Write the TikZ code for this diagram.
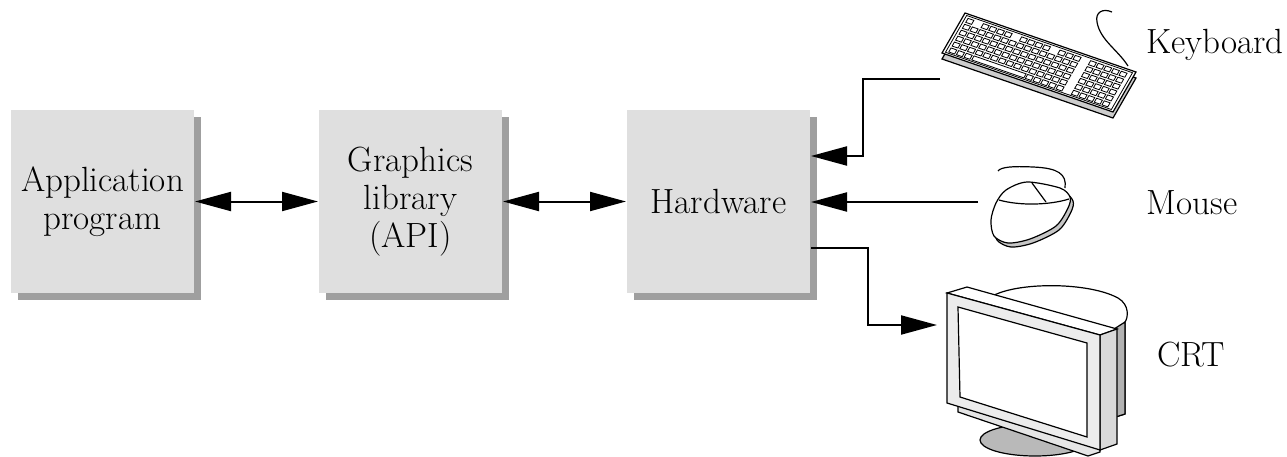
\documentclass[tikz,border=0pt]{standalone}
\usepackage{tikz}
\usetikzlibrary{positioning,arrows.meta,shadows}

\begin{document}
\begin{tikzpicture}[%
    x=0.5pt, y=-0.5pt, line width=1pt, >={Triangle[length=18pt,width=9.5pt]},
    node distance=61.5pt,
    block/.style={%
      rectangle, fill=gray!25, minimum width=91.5pt, minimum height=91.5pt,
      align=center, font=\fontsize{17.5}{19}\selectfont,
      drop shadow={shadow xshift=3.5pt, shadow yshift=-3.5pt, fill=gray!75, opacity=1}},
    devname/.style={font=\fontsize{17.5}{19}\selectfont},
    kbkey/.style={line width=0.4pt, fill=white},
    thin/.style={line width=0.6pt}
  ]
    \useasboundingbox (0,0) rectangle (1287,456);

    \node[block] (app) at (102.5,201.5)  {Application\\program};
    \node[block] (gfx) [right=of app]    {Graphics\\library\\(API)};
    \node[block] (hw)  [right=of gfx]    {Hardware};

    % keyboard
    \begin{scope}[shift={(942,53)}, x={(85.5pt,-29.5pt)}, y={(11.5pt,20pt)}]
      \begin{scope}[yshift=-3pt]
        \draw[thin, fill=gray!40] (0,0) -- (1,0) -- (1,1) -- (0,1) -- cycle;
      \end{scope}
      \draw[thin, fill=white] (0,0) -- (1,0) -- (1,1) -- (0,1) -- cycle;
      \draw[line width=0.4pt] (0.015,0.04) -- (0.985,0.04) -- (0.985,0.96) -- (0.015,0.96) -- cycle;
      \foreach \i in {0,...,14,16,17,18,19,20}
        \foreach \j in {1,...,4}
          \draw[kbkey] (0.03+\i*0.0448,0.07+\j*0.148) -- ++(0.034,0) -- ++(0,0.1) -- ++(-0.034,0) -- cycle;
      \foreach \i in {0,2,3,4,5,7,8,9,10,12,13,14,16,17,18,19,20}
        \draw[kbkey] (0.03+\i*0.0448,0.07+5*0.148) -- ++(0.034,0) -- ++(0,0.1) -- ++(-0.034,0) -- cycle;
      \foreach \i in {0,1,2,10,11,12,13,14,16,17,18,19,20}
        \draw[kbkey] (0.03+\i*0.0448,0.07) -- ++(0.034,0) -- ++(0,0.1) -- ++(-0.034,0) -- cycle;
      \draw[kbkey] (0.03+3*0.0448,0.07) -- ++(0.3046,0) -- ++(0,0.1) -- ++(-0.3046,0) -- cycle;
    \end{scope}
    \draw[thin] (1128,66) .. controls (1118,50) and (1100,40) .. (1097,22)
                .. controls (1095,12) and (1103,8) .. (1112,12);

    % mouse
    \draw[thin, fill=gray!45] plot[smooth cycle] coordinates {(1030,186) (1063,192) (1073,201) (1071,212)
        (1059,230) (1033,243) (1011,247) (997,240) (994,224) (999,207) (1009,194)};
    \draw[thin, fill=white] plot[smooth cycle] coordinates {(1027,182) (1060,188) (1070,197) (1068,208)
        (1056,226) (1030,239) (1008,243) (994,236) (991,220) (996,203) (1006,190)};
    \draw[thin] (999,200) .. controls (1020,206) and (1050,205) .. (1069,199);
    \draw[thin] (1032,183) -- (1046,202);
    \draw[thin] (1065,188) .. controls (1067,174) and (1058,168) .. (1033,167)
                .. controls (1012,166) and (1001,167) .. (998,171);

    % CRT
    \draw[thin, fill=gray!55] (1035,440) ellipse [x radius=27.5pt, y radius=8pt];
    \draw[thin, fill=white] (985,302) .. controls (1000,282) and (1085,280) .. (1118,298)
                .. controls (1130,305) and (1128,318) .. (1125,322) -- (1125,414) -- (1100,422) -- cycle;
    \draw[thin, fill=gray!60] (1100,338) -- (1125,322) -- (1125,414) -- (1100,422) -- cycle;
    \draw[thin, fill=gray!20] (958,400) -- (958,412) -- (1088,456) -- (1100,452) -- (1100,440) -- cycle;
    \draw[thin, fill=white] (947,293) -- (967,287) -- (1117,329) -- (1100,335) -- cycle;
    \draw[thin, fill=gray!30] (1100,335) -- (1117,329) -- (1117,444) -- (1100,450) -- cycle;
    \draw[thin, fill=gray!15] (947,293) -- (1100,335) -- (1100,450) -- (947,403) -- cycle;
    \draw[thin, fill=white] (958,307) -- (1087,343) -- (1087,437) -- (960,397) -- cycle;

    \node[devname] (kblbl)  at (1215,45)  {Keyboard};
    \node[devname] (mslbl)  at (1192,203) {Mouse};
    \node[devname] (crtlbl) at (1191,355) {CRT};

    \coordinate (kbin) at (940,79);
    \coordinate (kbrow) at (0,156);
    \coordinate (msin) at (978,202);
    \coordinate (crtrow) at (0,248);
    \coordinate (crtin) at (937,325);

    \path (app) edge [<->] (gfx)
          (gfx) edge [<->] (hw);
    \draw[->] (kbin) -- ++(-77,0) |- (hw.east |- kbrow);
    \draw[->] (msin) -- (hw.east |- msin);
    \draw[->] (hw.east |- crtrow) -- ++(57,0) |- (crtin);
\end{tikzpicture}
\end{document}
